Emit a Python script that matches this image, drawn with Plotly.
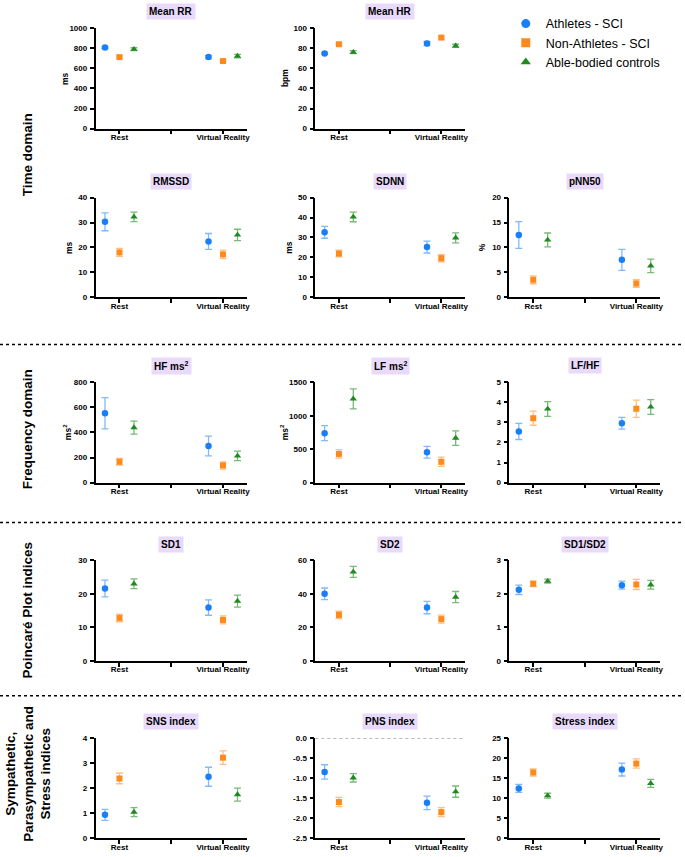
import plotly.graph_objects as go

W, H = 685, 857

conditions = ["Rest", "Virtual Reality"]
groups = ["Athletes - SCI", "Non-Athletes - SCI", "Able-bodied controls"]

# mean values per group: [Rest, Virtual Reality]; order: Athletes, Non-Athletes, Controls
mean_rr = [[806, 711], [711, 672], [790, 721]]
mean_rr_err = [[10, 14], [10, 10], [14, 18]]
mean_hr = [[74.8, 84.6], [83.9, 90.5], [76.0, 82.3]]
mean_hr_err = [[1.0, 2.0], [1.2, 1.4], [1.5, 1.6]]
rmssd = [[30.3, 22.4], [18.0, 17.2], [32.3, 25.0]]
rmssd_err = [[3.6, 3.2], [1.6, 1.7], [1.9, 2.3]]
sdnn = [[32.6, 25.2], [21.9, 19.6], [40.3, 29.8]]
sdnn_err = [[3.0, 3.0], [1.7, 1.8], [2.4, 2.5]]
pnn50 = [[12.5, 7.5], [3.5, 2.75], [11.5, 6.3]]
pnn50_err = [[2.7, 2.1], [0.8, 0.75], [1.4, 1.35]]
hf = [[553, 292], [166, 137], [439, 213]]
hf_err = [[125, 78], [27, 29], [52, 38]]
lf = [[740, 454], [429, 311], [1253, 666]]
lf_err = [[111, 89], [64, 69], [150, 108]]
lf_hf = [[2.55, 2.96], [3.21, 3.68], [3.67, 3.77]]
lf_hf_err = [[0.40, 0.29], [0.35, 0.43], [0.37, 0.37]]
sd1 = [[21.6, 15.9], [12.8, 12.2], [23.0, 17.8]]
sd1_err = [[2.5, 2.3], [1.15, 1.2], [1.45, 1.8]]
sd2 = [[40.0, 31.8], [27.4, 24.9], [53.1, 38.1]]
sd2_err = [[3.5, 3.7], [2.2, 2.4], [3.3, 3.3]]
sd1_sd2 = [[2.12, 2.26], [2.30, 2.28], [2.38, 2.27]]
sd1_sd2_err = [[0.14, 0.12], [0.08, 0.15], [0.06, 0.13]]
sns = [[0.93, 2.45], [2.38, 3.21], [1.04, 1.74]]
sns_err = [[0.22, 0.38], [0.21, 0.27], [0.18, 0.26]]
pns = [[-0.85, -1.62], [-1.60, -1.85], [-0.995, -1.34]]
pns_err = [[0.18, 0.17], [0.115, 0.11], [0.105, 0.14]]
stress = [[12.4, 17.1], [16.4, 18.6], [10.6, 13.65]]
stress_err = [[1.0, 1.6], [0.9, 1.15], [0.6, 1.0]]

pns_ticks = [0, -0.5, -1.0, -1.5, -2.0, -2.5]
pns_ticktext = ["0.0", "-0.5", "-1.0", "-1.5", "-2.0", "-2.5"]

sections = ["Time domain", "Frequency domain", "Poincaré Plot indices",
            "Sympathetic,<br>Parasympathetic and<br>Stress indices"]

# panel config: title, data, err, row, col, ytitle, yrange, dtick
panels = [
    ("Mean RR", mean_rr, mean_rr_err, 0, 0, "ms", [0, 1000], 200),
    ("Mean HR", mean_hr, mean_hr_err, 0, 1, "bpm", [0, 100], 20),
    ("RMSSD", rmssd, rmssd_err, 1, 0, "ms", [0, 40], 10),
    ("SDNN", sdnn, sdnn_err, 1, 1, "ms", [0, 50], 10),
    ("pNN50", pnn50, pnn50_err, 1, 2, "%", [0, 20], 5),
    ("HF ms<sup>2</sup>", hf, hf_err, 2, 0, "ms<sup>2</sup>", [0, 800], 200),
    ("LF ms<sup>2</sup>", lf, lf_err, 2, 1, "ms<sup>2</sup>", [0, 1500], 500),
    ("LF/HF", lf_hf, lf_hf_err, 2, 2, None, [0, 5], 1),
    ("SD1", sd1, sd1_err, 3, 0, None, [0, 30], 10),
    ("SD2", sd2, sd2_err, 3, 1, None, [0, 60], 20),
    ("SD1/SD2", sd1_sd2, sd1_sd2_err, 3, 2, None, [0, 3], 1),
    ("SNS index", sns, sns_err, 4, 0, None, [0, 4], 1),
    ("PNS index", pns, pns_err, 4, 1, None, [-2.5, 0], 0.5),
    ("Stress index", stress, stress_err, 4, 2, None, [0, 25], 5),
]

# layout geometry in pixels
col_px = [(96, 248), (316.7, 467), (511.7, 663)]
row_px = [(24.3, 126), (195.7, 296.3), (382.3, 483.7), (562.3, 663.7), (741.7, 843)]
ytitle_x_px = {0: 66, 1: 287, 2: 70, 3: 290.7, 4: 485, 5: 68, 6: 286}
section_y_px = [152, 430, 612, 778]
sep_y_px = [344, 524, 699]

FONT = "Liberation Sans, Arial, sans-serif"
colors = ["#1a7ff7", "#ff8a1c", "#1f8a1f"]
err_colors = ["rgba(26,127,247,0.55)", "rgba(255,138,28,0.55)", "rgba(31,138,31,0.6)"]
symbols = ["circle", "square", "triangle-up"]
sizes = [6.5, 6, 6.5]
offsets = [-0.14, 0.0, 0.14]

def px_x(v):
    return v / W

def px_y(v):
    return 1 - v / H

fig = go.Figure()
layout = dict(
    width=W, height=H,
    margin=dict(l=0, r=0, t=0, b=0),
    paper_bgcolor="white", plot_bgcolor="white",
    font=dict(family=FONT, color="black"),
    showlegend=True,
)
annotations = []
shapes = []

for i, (title, data, err, r, c, ytitle, yrange, dtick) in enumerate(panels):
    n = i + 1
    xa = "x" if n == 1 else f"x{n}"
    ya = "y" if n == 1 else f"y{n}"
    xkey = "xaxis" if n == 1 else f"xaxis{n}"
    ykey = "yaxis" if n == 1 else f"yaxis{n}"
    x0, x1 = col_px[c]
    yt, yb = row_px[r]
    layout[xkey] = dict(
        domain=[px_x(x0), px_x(x1)], anchor=ya, range=[-0.2308, 1.2308],
        tickvals=[0, 1], ticktext=conditions,
        minor=dict(tickvals=[0.5], ticks="outside", ticklen=4, tickwidth=1.6,
                   tickcolor="black", showgrid=False),
        showline=True, linecolor="black", linewidth=1.6,
        ticks="outside", ticklen=4, tickwidth=1.6, tickcolor="black",
        showgrid=False, zeroline=False,
        tickfont=dict(family=FONT, size=8, color="black", weight="bold"),
        ticklabelstandoff=-4,
        fixedrange=True,
    )
    yax = dict(
        domain=[px_y(yb), px_y(yt)], anchor=xa, range=yrange,
        showline=True, linecolor="black", linewidth=1.6,
        ticks="outside", ticklen=4, tickwidth=1.6, tickcolor="black",
        showgrid=False, zeroline=False,
        tickfont=dict(family=FONT, size=8, color="black", weight="bold"),
        ticklabelstandoff=1,
        fixedrange=True,
    )
    if title == "PNS index":
        yax["tickvals"] = pns_ticks
        yax["ticktext"] = pns_ticktext
    else:
        yax["tick0"] = 0
        yax["dtick"] = dtick
    layout[ykey] = yax

    for g in range(3):
        xs = [k + offsets[g] for k in range(len(conditions))]
        fig.add_trace(go.Scatter(
            x=xs, y=data[g], xaxis=xa, yaxis=ya, mode="markers",
            marker=dict(color=colors[g], symbol=symbols[g], size=sizes[g], line=dict(width=0)),
            error_y=dict(type="data", array=err[g], visible=True, color=err_colors[g],
                         thickness=1.3, width=3.5),
            showlegend=False, name=groups[g], cliponaxis=False,
        ))

    # subplot title
    annotations.append(dict(
        text=title, xref="paper", yref="paper",
        x=px_x((x0 + x1) / 2), y=px_y(yt - 16.5), xanchor="center", yanchor="middle",
        showarrow=False, bgcolor="#e9dafb", borderpad=2,
        font=dict(family=FONT, size=10, color="black", weight="bold"),
    ))
    if ytitle:
        annotations.append(dict(
            text=ytitle, xref="paper", yref="paper",
            x=px_x(ytitle_x_px[i]), y=px_y((yt + yb) / 2), xanchor="center", yanchor="middle",
            textangle=-90, showarrow=False,
            font=dict(family=FONT, size=8.5, color="black", weight="bold"),
        ))
    if title == "PNS index":
        shapes.append(dict(type="line", xref=f"{xa} domain", yref=ya, x0=0, x1=1, y0=0, y1=0,
                           line=dict(color="#555555", width=1, dash="dot")))

# legend entries
for g in range(3):
    fig.add_trace(go.Scatter(
        x=[None], y=[None], mode="markers", name=groups[g],
        marker=dict(color=colors[g], symbol=symbols[g], size=9),
        showlegend=True,
    ))

layout["legend"] = dict(
    x=px_x(508), y=px_y(5), xanchor="left", yanchor="top",
    font=dict(family=FONT, size=12.5, color="black"),
    bgcolor="rgba(0,0,0,0)", tracegroupgap=0, itemclick=False, itemdoubleclick=False,
)

for s, yc in zip(sections, section_y_px):
    annotations.append(dict(
        text=s, xref="paper", yref="paper", x=px_x(28), y=px_y(yc),
        xanchor="center", yanchor="middle", textangle=-90, showarrow=False,
        font=dict(family=FONT, size=13.5, color="black", weight="bold"),
    ))

for yv in sep_y_px:
    shapes.append(dict(type="line", xref="paper", yref="paper", x0=0, x1=1,
                       y0=px_y(yv), y1=px_y(yv),
                       line=dict(color="black", width=1.5, dash="dot")))

layout["annotations"] = annotations
layout["shapes"] = shapes
fig.update_layout(**layout)
fig.write_html(
    "out.html",
    config={"displayModeBar": False},
    post_script="document.body.style.margin='0';document.body.style.overflow='hidden';",
)
